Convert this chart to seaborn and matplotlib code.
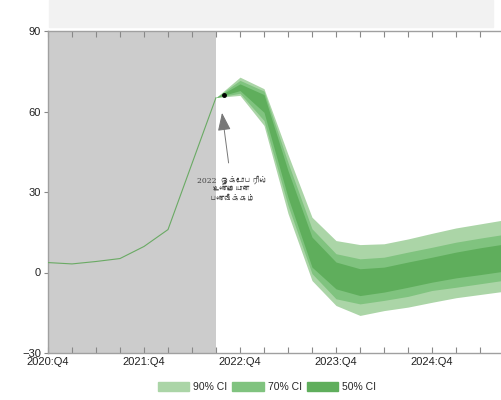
import numpy as np
import pandas as pd
import matplotlib
matplotlib.use("Agg")
import matplotlib.pyplot as plt
from matplotlib import font_manager
from matplotlib.patches import Patch, Rectangle
import seaborn as sns

# quarters from 2020:Q4 onward (index 0 = 2020:Q4)
tick_labels = ["2020:Q4", "2021:Q4", "2022:Q4", "2023:Q4", "2024:Q4"]
tick_pos = [0, 4, 8, 12, 16]

# actual inflation, 2020:Q4 .. 2022:Q3
hist_q = [0, 1, 2, 3, 4, 5, 6, 7]
hist_vals = [3.7, 3.2, 4.1, 5.2, 9.7, 16.0, 40.6, 65.2]

# projection fan, 2022:Q3 .. 2025:Q3
fan_q = [7, 8, 9, 10, 11, 12, 13, 14, 15, 16, 17, 18, 19]
ci90_hi = [65.2, 72.8, 68.5, 44.0, 20.6, 11.9, 10.4, 10.7, 12.5, 14.6, 16.6, 18.1, 19.6]
ci70_hi = [65.2, 71.6, 67.6, 41.0, 16.3, 7.0, 5.1, 5.7, 7.6, 9.4, 11.3, 12.8, 14.2]
ci50_hi = [65.2, 70.3, 66.3, 38.0, 13.2, 3.9, 1.4, 2.0, 3.9, 5.7, 7.6, 9.2, 10.6]
ci50_lo = [65.2, 67.8, 59.7, 28.0, 2.0, -6.1, -8.6, -7.3, -5.5, -3.6, -2.0, -0.8, 0.5]
ci70_lo = [65.2, 66.8, 56.6, 25.0, -0.4, -9.8, -11.7, -10.4, -8.9, -6.7, -5.5, -4.2, -2.9]
ci90_lo = [65.2, 66.0, 54.8, 22.0, -3.0, -12.3, -16.0, -14.2, -12.9, -11.1, -9.4, -8.2, -7.0]

# October 2022 actual outturn
oct_q = 7.33
oct_val = 66.3

c90, c70, c50 = "#abd5a7", "#80c37f", "#5fae5c"
line_c = "#6aaa64"


def tamil_family():
    # look for an installed font that has Tamil letters
    try:
        from fontTools.ttLib import TTFont
    except Exception:
        return None
    for f in font_manager.fontManager.ttflist:
        try:
            cmap = TTFont(f.fname, fontNumber=0, lazy=True).getBestCmap()
            if cmap and 0x0B95 in cmap:
                return f.name
        except Exception:
            continue
    return None


sns.set_style("ticks")
plt.rcParams["font.family"] = ["Liberation Sans", "DejaVu Sans"]

fig = plt.figure(figsize=(5.01, 4.00), dpi=100)
fig.patches.append(Rectangle((49 / 501, 1 - 27 / 400), 444 / 501, 27 / 400,
                             transform=fig.transFigure, color="#f2f2f2", zorder=0))
ax = fig.add_axes([48 / 501, 47 / 400, 480 / 501, 322 / 400])

ax.axvspan(0, 7, color="#cccccc", zorder=0, lw=0)

ax.fill_between(fan_q, ci90_lo, ci90_hi, color=c90, lw=0, zorder=2)
ax.fill_between(fan_q, ci70_lo, ci70_hi, color=c70, lw=0, zorder=3)
ax.fill_between(fan_q, ci50_lo, ci50_hi, color=c50, lw=0, zorder=4)

hist = pd.DataFrame({"q": hist_q, "v": hist_vals})
sns.lineplot(data=hist, x="q", y="v", ax=ax, color=line_c, lw=0.8, zorder=5)

ax.plot([oct_q], [oct_val], "o", color="black", ms=2.5, zorder=6)

tf = tamil_family()
fam = ["DejaVu Serif", tf] if tf else ["DejaVu Serif"]
ax.annotate("2022  ஒக்டோபரில்\nஉண்மையான\nபணவீக்கம்",
            xy=(7.25, 59.5), xytext=(7.67, 31.0),
            ha="center", va="center", fontsize=5.5, color="#444444",
            family=fam, linespacing=1.2,
            arrowprops=dict(arrowstyle="-|>,head_length=1.1,head_width=0.4",
                            mutation_scale=10, color="#777777", lw=0.7,
                            shrinkA=7, shrinkB=0),
            zorder=7)

ax.set_xlim(0, 20)
ax.set_ylim(-30, 90)
ax.set_xticks(range(0, 21))
ax.set_xticklabels([tick_labels[tick_pos.index(i)] if i in tick_pos else "" for i in range(0, 21)])
ax.set_yticks([-30, 0, 30, 60, 90])
ax.set_xlabel("")
ax.set_ylabel("")

ax.tick_params(axis="x", direction="in", top=True, bottom=True, length=4,
               color="#888888", labelsize=8, pad=3, labelcolor="#222222")
ax.tick_params(axis="y", direction="out", left=True, right=False, length=3,
               color="#888888", labelsize=8, pad=2, labelcolor="#222222")
for s in ax.spines.values():
    s.set_color("#a0a0a0")
    s.set_linewidth(1.0)

handles = [Patch(color=c90, label="90% CI"), Patch(color=c70, label="70% CI"),
           Patch(color=c50, label="50% CI")]
fig.legend(handles=handles, loc="center", bbox_to_anchor=(267 / 501, 1 - 387 / 400),
           ncol=3, frameon=False, fontsize=7.5, handlelength=3.0, handleheight=0.9,
           handletextpad=0.4, columnspacing=0.5)

fig.savefig("out.png", dpi=100)
